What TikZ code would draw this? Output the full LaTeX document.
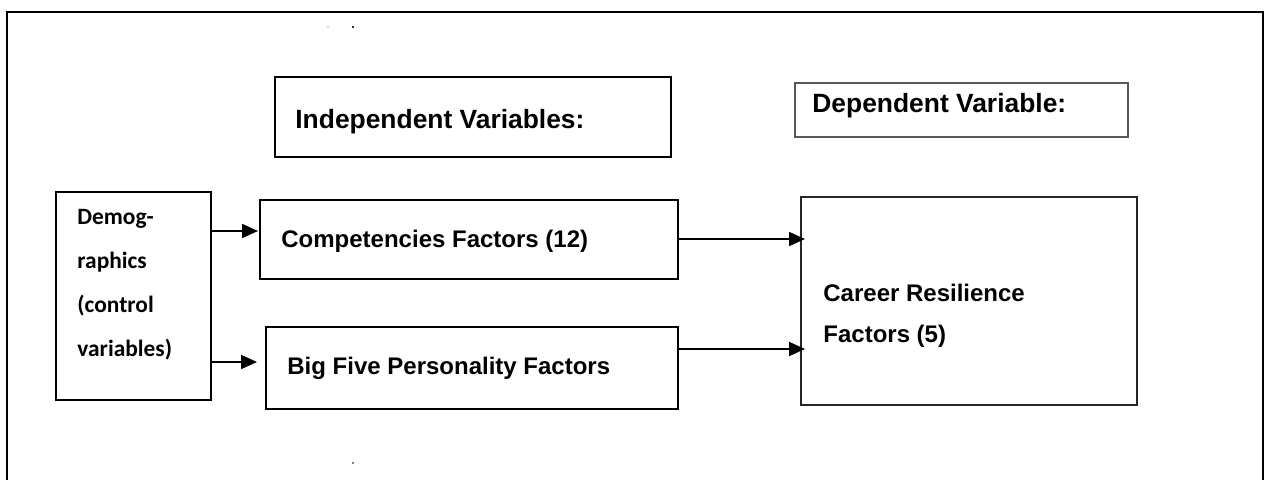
\documentclass[tikz,border=0pt]{standalone}
\usepackage{fontspec}
\setmainfont{Liberation Sans}
\newfontfamily\calfont{Carlito}
\usetikzlibrary{arrows.meta}
\begin{document}
\begin{tikzpicture}[x=0.5pt,y=-0.5pt,
  boxstyle/.style={draw=black,line width=1pt,rectangle,inner sep=0pt,outer sep=0pt},
  headtext/.style={anchor=base west,inner sep=0pt,font=\fontsize{13.2pt}{15pt}\selectfont\bfseries},
  itemtext/.style={anchor=base west,inner sep=0pt,font=\fontsize{12pt}{14pt}\selectfont\bfseries},
  demotext/.style={anchor=base west,inner sep=0pt,font=\calfont\fontsize{11.7pt}{14pt}\selectfont\bfseries},
  arr/.style={draw=black,line width=0.85pt,-{Triangle[length=8pt,width=7pt]}},
  speck/.style={inner sep=0pt,outer sep=0pt,minimum width=1pt,minimum height=1pt}
]
\useasboundingbox[fill=white] (0,0) rectangle (1269,480);
% outer frame (open at the bottom)
\draw[line width=1pt,line cap=rect] (7,480) -- (7,12) -- (1263,12) -- (1263,480);
% boxes
\node[boxstyle,minimum width=198pt,minimum height=40pt] (indep) at (473,117) {};
\node[boxstyle,draw=black!65,line width=0.65pt,minimum width=166.5pt,minimum height=27pt] (dep) at (961.5,110) {};
\node[boxstyle,minimum width=77.5pt,minimum height=104pt] (demo) at (133.5,296) {};
\node[boxstyle,minimum width=209pt,minimum height=39.5pt] (comp) at (469,239.5) {};
\node[boxstyle,minimum width=206pt,minimum height=41pt] (big) at (472,368) {};
\node[boxstyle,draw=black!85,line width=0.9pt,minimum width=168pt,minimum height=104pt] (career) at (969,301) {};
% texts
\node[headtext] (indeptext) at (295,129) {Independent Variables:};
\node[headtext] (deptext) at (812,113) {Dependent Variable:};
\node[demotext] (demo1) at (77,225) {Demog-};
\node[demotext] (demo2) at (77,269) {raphics};
\node[demotext] (demo3) at (77,313) {(control};
\node[demotext] (demo4) at (77,357) {variables)};
\node[itemtext] (comptext) at (281,248) {Competencies Factors (12)};
\node[itemtext] (bigtext) at (287,375) {Big Five Personality Factors};
\node[itemtext] (car1) at (823,302) {Career Resilience};
\node[itemtext] (car2) at (823,343) {Factors (5)};
% arrow rows
\coordinate (r1) at (0,231);
\coordinate (r2) at (0,362);
\coordinate (r3) at (0,239);
\coordinate (r4) at (0,349);
\draw[arr,shorten >=1pt] (demo.east |- r1) -- (comp.west |- r1);
\draw[arr,shorten >=4.5pt] (demo.east |- r2) -- (big.west |- r2);
\draw[arr,shorten >=-2pt] (comp.east |- r3) -- (career.west |- r3);
\draw[arr,shorten >=-2pt] (big.east |- r4) -- (career.west |- r4);
% small specks
\node[speck,fill=black!15] (speck1) at (328,27) {};
\node[speck,fill=black!80] (speck2) at (353,27) {};
\node[speck,fill=black!50] (speck3) at (353,463) {};
\end{tikzpicture}
\end{document}
